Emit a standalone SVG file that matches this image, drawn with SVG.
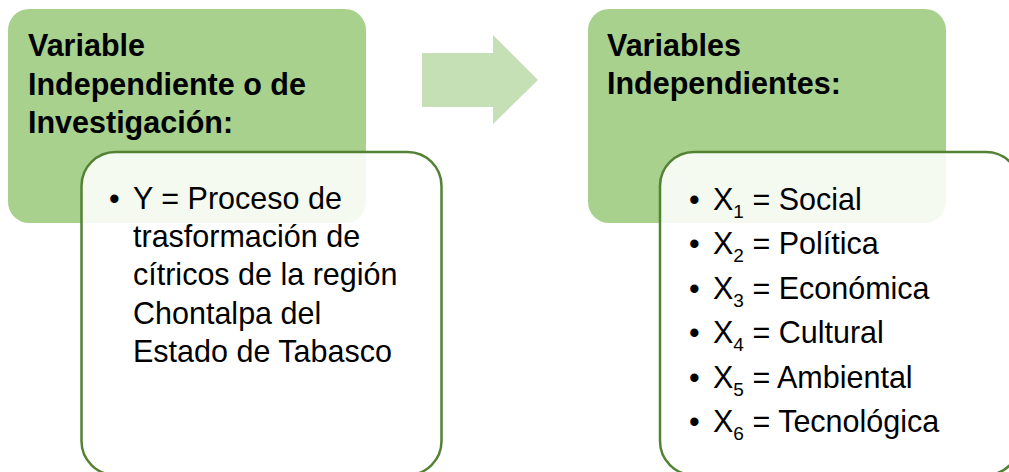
<svg xmlns="http://www.w3.org/2000/svg" width="1009" height="472" viewBox="0 0 1009 472">
<style>
.hdr{fill:#a9d18e}
.body{fill:#ffffff;fill-opacity:0.88;stroke:#548235;stroke-width:2.5}
.t{font-family:"Liberation Sans",Arial,sans-serif;fill:#000}
.b{font-weight:bold;font-size:30.5px}
.r{font-size:30.5px}
.sub{font-size:19px}
</style>
<rect width="1009" height="472" fill="#ffffff"/>
<g id="node-left">
<rect class="hdr" x="8" y="9" width="358" height="214" rx="21"/>
<text class="t b"><tspan x="28" y="56">Variable</tspan><tspan x="28" y="95">Independiente o de</tspan><tspan x="28" y="133">Investigación:</tspan></text>
<rect class="body" x="81.5" y="152" width="360" height="323" rx="34"/>
<text class="t r"><tspan x="109" y="209">•</tspan><tspan x="133" y="209">Y = Proceso de</tspan><tspan x="133" y="247">trasformación de</tspan><tspan x="133" y="285">cítricos de la región</tspan><tspan x="133" y="324">Chontalpa del</tspan><tspan x="133" y="362">Estado de Tabasco</tspan></text>
</g>
<g id="connectors">
<polygon points="422,53 493,53 493,35 538,80 493,124 493,107 422,107" fill="#c5e0b4"/>
</g>
<g id="node-right">
<rect class="hdr" x="588" y="9" width="358" height="214" rx="21"/>
<text class="t b"><tspan x="607" y="56">Variables</tspan><tspan x="607" y="94">Independientes:</tspan></text>
<rect class="body" x="660" y="152" width="360" height="323" rx="34"/>
<g class="t r">
<text x="689" y="210">•</text><text x="713" y="210">X<tspan class="sub" dy="8">1</tspan><tspan dy="-8"> = Social</tspan></text>
<text x="689" y="254">•</text><text x="713" y="254">X<tspan class="sub" dy="8">2</tspan><tspan dy="-8"> = Política</tspan></text>
<text x="689" y="299">•</text><text x="713" y="299">X<tspan class="sub" dy="8">3</tspan><tspan dy="-8"> = Económica</tspan></text>
<text x="689" y="343">•</text><text x="713" y="343">X<tspan class="sub" dy="8">4</tspan><tspan dy="-8"> = Cultural</tspan></text>
<text x="689" y="388">•</text><text x="713" y="388">X<tspan class="sub" dy="8">5</tspan><tspan dy="-8"> = Ambiental</tspan></text>
<text x="689" y="432">•</text><text x="713" y="432">X<tspan class="sub" dy="8">6</tspan><tspan dy="-8"> = Tecnológica</tspan></text>
</g>
</g>
</svg>
